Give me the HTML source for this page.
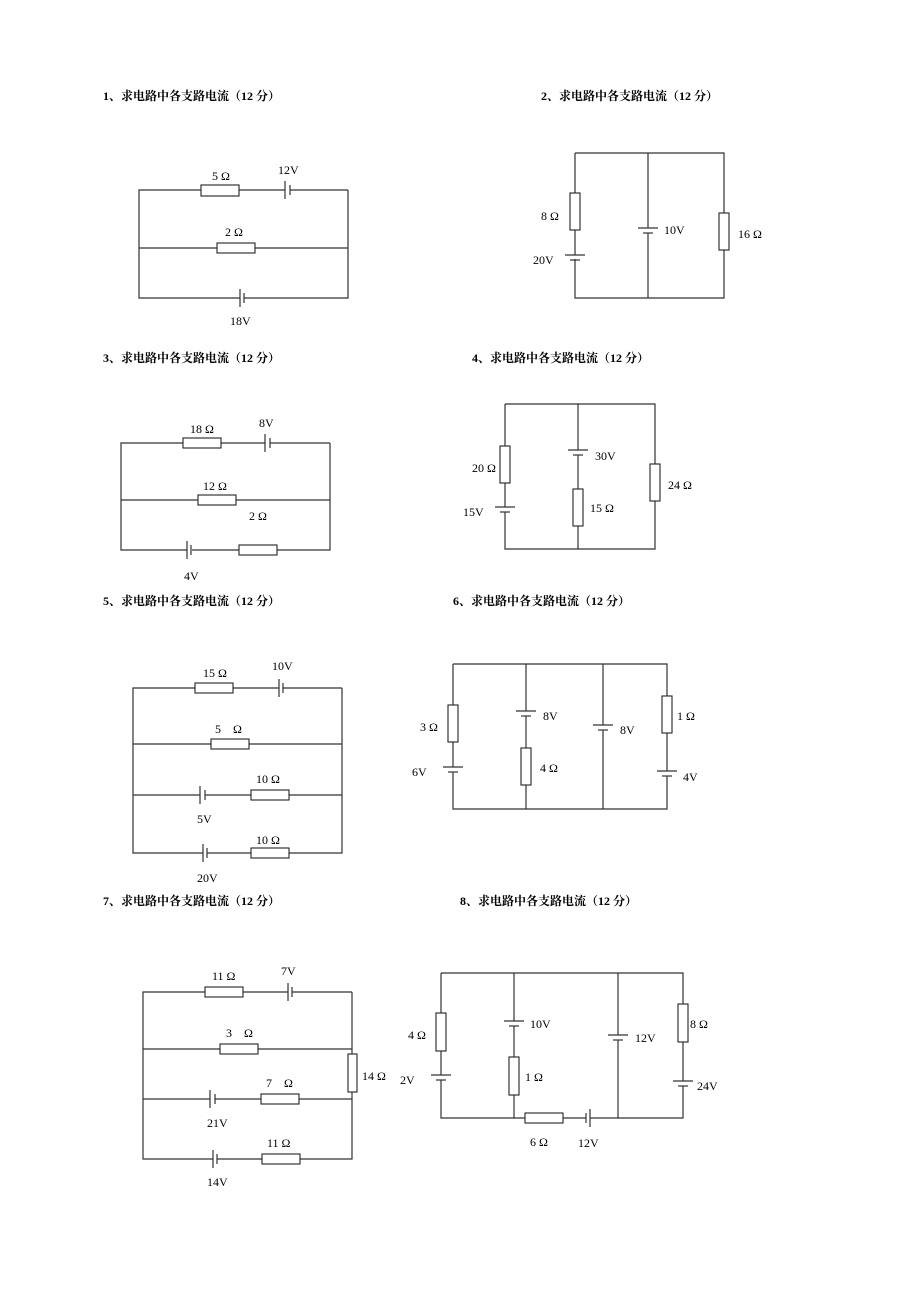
<!DOCTYPE html>
<html><head><meta charset="utf-8"><style>
html,body{margin:0;padding:0;background:#fff;}
svg{display:block;}
.h{font-family:"Liberation Serif","Noto Serif CJK SC",serif;font-size:12px;font-weight:bold;fill:#000;}
.l{font-family:"Liberation Serif","Noto Serif CJK SC",serif;font-size:12px;fill:#000;}
line,polyline{stroke:#333;stroke-width:1.2;fill:none;}
rect.r{fill:#fff;stroke:#222;stroke-width:1.1;}
rect.g{fill:#fff;stroke:none;}
</style></head><body>
<svg width="920" height="1295" viewBox="0 0 920 1295" xmlns="http://www.w3.org/2000/svg">
<!-- headers -->
<text class="h" x="103" y="100">1、求电路中各支路电流（12 分）</text>
<text class="h" x="541" y="100">2、求电路中各支路电流（12 分）</text>
<text class="h" x="103" y="362">3、求电路中各支路电流（12 分）</text>
<text class="h" x="472" y="362">4、求电路中各支路电流（12 分）</text>
<text class="h" x="103" y="605">5、求电路中各支路电流（12 分）</text>
<text class="h" x="453" y="605">6、求电路中各支路电流（12 分）</text>
<text class="h" x="103" y="905">7、求电路中各支路电流（12 分）</text>
<text class="h" x="460" y="905">8、求电路中各支路电流（12 分）</text>

<!-- Circuit 1 -->
<polyline points="348,190 139,190 139,298 348,298 348,190"/>
<line x1="139" y1="248" x2="348" y2="248"/>
<rect class="r" x="201" y="185" width="38" height="11"/>
<rect class="g" x="285" y="187" width="5" height="6"/><line x1="285" y1="181" x2="285" y2="199"/><line x1="290" y1="185" x2="290" y2="195"/>
<rect class="r" x="217" y="243" width="38" height="10"/>
<rect class="g" x="240" y="295" width="4" height="6"/><line x1="240" y1="289" x2="240" y2="307"/><line x1="244" y1="293" x2="244" y2="303"/>
<text class="l" x="212" y="180">5 Ω</text><text class="l" x="278" y="174">12V</text>
<text class="l" x="225" y="236">2 Ω</text><text class="l" x="230" y="325">18V</text>

<!-- Circuit 2 -->
<polyline points="575,153 724,153 724,298 575,298 575,153"/>
<line x1="648" y1="153" x2="648" y2="298"/>
<rect class="r" x="570" y="193" width="10" height="37"/>
<rect class="g" x="572" y="255" width="6" height="4"/><line x1="565" y1="255" x2="585" y2="255"/><line x1="570" y1="260" x2="580" y2="260"/>
<rect class="g" x="645" y="228" width="6" height="5"/><line x1="638" y1="228" x2="658" y2="228"/><line x1="643" y1="233" x2="653" y2="233"/>
<rect class="r" x="719" y="213" width="10" height="37"/>
<text class="l" x="541" y="220">8 Ω</text><text class="l" x="533" y="264">20V</text>
<text class="l" x="664" y="234">10V</text><text class="l" x="738" y="238">16 Ω</text>

<!-- Circuit 3 -->
<polyline points="330,443 121,443 121,550 330,550 330,443"/>
<line x1="121" y1="500" x2="330" y2="500"/>
<rect class="r" x="183" y="438" width="38" height="10"/>
<rect class="g" x="265" y="440" width="5" height="6"/><line x1="265" y1="434" x2="265" y2="452"/><line x1="270" y1="438" x2="270" y2="448"/>
<rect class="r" x="198" y="495" width="38" height="10"/>
<rect class="g" x="187" y="547" width="5" height="6"/><line x1="187" y1="541" x2="187" y2="559"/><line x1="191" y1="545" x2="191" y2="555"/>
<rect class="r" x="239" y="545" width="38" height="10"/>
<text class="l" x="190" y="433">18 Ω</text><text class="l" x="259" y="427">8V</text>
<text class="l" x="203" y="490">12 Ω</text><text class="l" x="249" y="520">2 Ω</text><text class="l" x="184" y="580">4V</text>

<!-- Circuit 4 -->
<polyline points="505,404 655,404 655,549 505,549 505,404"/>
<line x1="578" y1="404" x2="578" y2="549"/>
<rect class="r" x="500" y="446" width="10" height="37"/>
<rect class="g" x="502" y="507" width="6" height="5"/><line x1="495" y1="507" x2="515" y2="507"/><line x1="500" y1="512" x2="510" y2="512"/>
<rect class="g" x="575" y="450" width="6" height="5"/><line x1="568" y1="450" x2="588" y2="450"/><line x1="573" y1="455" x2="583" y2="455"/>
<rect class="r" x="573" y="489" width="10" height="37"/>
<rect class="r" x="650" y="464" width="10" height="37"/>
<text class="l" x="472" y="472">20 Ω</text><text class="l" x="463" y="516">15V</text>
<text class="l" x="595" y="460">30V</text><text class="l" x="590" y="512">15 Ω</text><text class="l" x="668" y="489">24 Ω</text>

<!-- Circuit 5 -->
<polyline points="342,688 133,688 133,853 342,853 342,688"/>
<line x1="133" y1="744" x2="342" y2="744"/>
<line x1="133" y1="795" x2="342" y2="795"/>
<rect class="r" x="195" y="683" width="38" height="10"/>
<rect class="g" x="279" y="685" width="4" height="6"/><line x1="279" y1="679" x2="279" y2="697"/><line x1="283" y1="683" x2="283" y2="693"/>
<rect class="r" x="211" y="739" width="38" height="10"/>
<rect class="g" x="200" y="792" width="5" height="6"/><line x1="200" y1="786" x2="200" y2="804"/><line x1="205" y1="790" x2="205" y2="800"/>
<rect class="r" x="251" y="790" width="38" height="10"/>
<rect class="g" x="203" y="850" width="4" height="6"/><line x1="203" y1="844" x2="203" y2="862"/><line x1="207" y1="848" x2="207" y2="858"/>
<rect class="r" x="251" y="848" width="38" height="10"/>
<text class="l" x="203" y="677">15 Ω</text><text class="l" x="272" y="670">10V</text>
<text class="l" x="215" y="733">5　Ω</text><text class="l" x="256" y="783">10 Ω</text>
<text class="l" x="197" y="823">5V</text><text class="l" x="256" y="844">10 Ω</text><text class="l" x="197" y="882">20V</text>

<!-- Circuit 6 -->
<polyline points="453,664 667,664 667,809 453,809 453,664"/>
<line x1="526" y1="664" x2="526" y2="809"/>
<line x1="603" y1="664" x2="603" y2="809"/>
<rect class="r" x="448" y="705" width="10" height="37"/>
<rect class="g" x="450" y="767" width="6" height="5"/><line x1="443" y1="767" x2="463" y2="767"/><line x1="448" y1="772" x2="458" y2="772"/>
<rect class="g" x="523" y="711" width="6" height="5"/><line x1="516" y1="711" x2="536" y2="711"/><line x1="521" y1="716" x2="531" y2="716"/>
<rect class="r" x="521" y="748" width="10" height="37"/>
<rect class="g" x="600" y="725" width="6" height="5"/><line x1="593" y1="725" x2="613" y2="725"/><line x1="598" y1="730" x2="608" y2="730"/>
<rect class="r" x="662" y="696" width="10" height="37"/>
<rect class="g" x="664" y="771" width="6" height="5"/><line x1="657" y1="771" x2="677" y2="771"/><line x1="662" y1="776" x2="672" y2="776"/>
<text class="l" x="420" y="731">3 Ω</text><text class="l" x="412" y="776">6V</text>
<text class="l" x="543" y="720">8V</text><text class="l" x="540" y="772">4 Ω</text>
<text class="l" x="620" y="734">8V</text><text class="l" x="677" y="720">1 Ω</text><text class="l" x="683" y="781">4V</text>

<!-- Circuit 7 -->
<polyline points="352,992 143,992 143,1159 352,1159 352,992"/>
<line x1="143" y1="1049" x2="352" y2="1049"/>
<line x1="143" y1="1099" x2="352" y2="1099"/>
<rect class="r" x="205" y="987" width="38" height="10"/>
<rect class="g" x="288" y="989" width="4" height="6"/><line x1="288" y1="983" x2="288" y2="1001"/><line x1="292" y1="987" x2="292" y2="997"/>
<rect class="r" x="220" y="1044" width="38" height="10"/>
<rect class="r" x="348" y="1054" width="9" height="38"/>
<rect class="g" x="210" y="1096" width="5" height="6"/><line x1="210" y1="1090" x2="210" y2="1108"/><line x1="215" y1="1094" x2="215" y2="1104"/>
<rect class="r" x="261" y="1094" width="38" height="10"/>
<rect class="g" x="213" y="1156" width="4" height="6"/><line x1="213" y1="1150" x2="213" y2="1168"/><line x1="217" y1="1154" x2="217" y2="1164"/>
<rect class="r" x="262" y="1154" width="38" height="10"/>
<text class="l" x="212" y="980">11 Ω</text><text class="l" x="281" y="975">7V</text>
<text class="l" x="226" y="1037">3　Ω</text><text class="l" x="362" y="1080">14 Ω</text>
<text class="l" x="266" y="1087">7　Ω</text><text class="l" x="207" y="1127">21V</text>
<text class="l" x="267" y="1147">11 Ω</text><text class="l" x="207" y="1186">14V</text>

<!-- Circuit 8 -->
<polyline points="441,973 683,973 683,1118 441,1118 441,973"/>
<line x1="514" y1="973" x2="514" y2="1118"/>
<line x1="618" y1="973" x2="618" y2="1118"/>
<rect class="r" x="436" y="1013" width="10" height="38"/>
<rect class="g" x="438" y="1075" width="6" height="5"/><line x1="431" y1="1075" x2="451" y2="1075"/><line x1="436" y1="1080" x2="446" y2="1080"/>
<rect class="g" x="511" y="1021" width="6" height="5"/><line x1="504" y1="1021" x2="524" y2="1021"/><line x1="509" y1="1026" x2="519" y2="1026"/>
<rect class="r" x="509" y="1057" width="10" height="38"/>
<rect class="g" x="615" y="1035" width="6" height="5"/><line x1="608" y1="1035" x2="628" y2="1035"/><line x1="613" y1="1040" x2="623" y2="1040"/>
<rect class="r" x="678" y="1004" width="10" height="38"/>
<rect class="g" x="680" y="1081" width="6" height="5"/><line x1="673" y1="1081" x2="693" y2="1081"/><line x1="678" y1="1086" x2="688" y2="1086"/>
<rect class="r" x="525" y="1113" width="38" height="10"/>
<rect class="g" x="586" y="1115" width="4" height="6"/><line x1="590" y1="1109" x2="590" y2="1127"/><line x1="586" y1="1113" x2="586" y2="1123"/>
<text class="l" x="408" y="1039">4 Ω</text><text class="l" x="400" y="1084">2V</text>
<text class="l" x="530" y="1028">10V</text><text class="l" x="525" y="1081">1 Ω</text>
<text class="l" x="635" y="1042">12V</text><text class="l" x="690" y="1028">8 Ω</text><text class="l" x="697" y="1090">24V</text>
<text class="l" x="530" y="1146">6 Ω</text><text class="l" x="578" y="1147">12V</text>
</svg>
</body></html>
